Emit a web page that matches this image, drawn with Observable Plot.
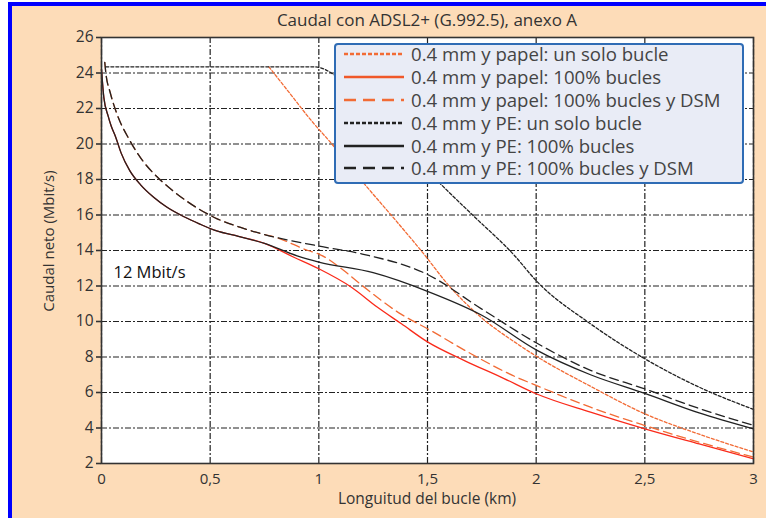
<!DOCTYPE html>
<html><head><meta charset="utf-8">
<script src="https://cdn.jsdelivr.net/npm/d3@7"></script>
<script src="https://cdn.jsdelivr.net/npm/@observablehq/plot@0.6"></script>
<style>
html,body{margin:0;padding:0;background:#fff;}
#wrap{position:relative;width:766px;height:518px;overflow:hidden;background:#fff;font-family:"Open Sans",sans-serif;}
#panel{position:absolute;left:8px;top:2px;width:758px;height:516px;background:#fddcb8;border-left:4px solid #0000ff;border-top:4px solid #0000ff;box-sizing:border-box;}
#chart{position:absolute;left:0;top:0;}
#title{position:absolute;left:101px;width:652px;top:8px;text-align:center;font-size:17px;color:#333;white-space:nowrap;}
#xlabel{position:absolute;left:101px;width:652px;top:488px;text-align:center;font-size:15.5px;line-height:21px;color:#333;white-space:nowrap;}
#ylabel{position:absolute;left:48px;top:241px;transform:translate(-50%,-50%) rotate(-90deg);font-size:15px;color:#333;white-space:nowrap;}
#legend{position:absolute;left:334px;top:43px;width:410px;height:141px;box-sizing:border-box;border:2px solid #2f6cb5;border-radius:4px;background:#e9ecf6;padding-top:0px;}
.row{display:flex;align-items:center;height:22.8px;white-space:nowrap;}
.row:first-child{margin-top:-2px;}
.row svg{margin-left:8px;margin-right:7px;flex:none;}
.row span{font-size:18.6px;line-height:22px;color:#444;}
</style></head>
<body>
<div id="wrap">
  <div id="panel"></div>
  <div id="chart"></div>
  <div id="title"></div>
  <div id="xlabel"></div>
  <div id="ylabel"></div>
  <div id="legend"></div>
</div>
<script>
// ---- texts ----
const titleText = "Caudal con ADSL2+ (G.992.5), anexo A";
const xLabelText = "Longuitud del bucle (km)";
const yLabelText = "Caudal neto (Mbit/s)";

// ---- ticks ----
const xTicks = [0, 0.5, 1, 1.5, 2, 2.5, 3];
const xTickLabels = ["0", "0,5", "1", "1,5", "2", "2,5", "3"];
const yTicks = [2, 4, 6, 8, 10, 12, 14, 16, 18, 20, 22, 24, 26];

// ---- series names ----
const seriesNames = [
  "0.4 mm y papel: un solo bucle",
  "0.4 mm y papel: 100% bucles",
  "0.4 mm y papel: 100% bucles y DSM",
  "0.4 mm y PE: un solo bucle",
  "0.4 mm y PE: 100% bucles",
  "0.4 mm y PE: 100% bucles y DSM"
];

// ---- series values (km, Mbit/s) ----
const paperSingleX = [0.77, 0.87, 0.96, 1.06, 1.22, 1.35, 1.48, 1.6, 1.75, 1.9, 2.0, 2.25, 2.5, 2.75, 3.0];
const paperSingleY = [24.35, 22.8, 21.4, 20.0, 17.6, 15.75, 13.85, 12.0, 10.2, 8.85, 8.05, 6.35, 4.8, 3.65, 2.65];

const paperAllX = [0, 0.011, 0.03, 0.045, 0.065, 0.09, 0.13, 0.18, 0.24, 0.3, 0.38, 0.45, 0.53, 0.63, 0.75, 0.885, 1.0, 1.15, 1.27, 1.38, 1.5, 1.67, 1.85, 2.0, 2.25, 2.5, 2.75, 3.0];
const paperAllY = [24.2, 22.6, 21.6, 21.0, 20.4, 19.5, 18.5, 17.7, 17.0, 16.45, 15.9, 15.5, 15.1, 14.8, 14.4, 13.62, 12.97, 11.93, 10.8, 9.87, 8.85, 7.8, 6.8, 5.93, 4.89, 3.95, 3.1, 2.27];

const paperDsmX = [0.015, 0.02, 0.04, 0.065, 0.13, 0.19, 0.26, 0.32, 0.39, 0.53, 0.64, 0.75, 0.8, 0.95, 1.0, 1.115, 1.19, 1.376, 1.514, 1.7, 1.91, 2.0, 2.25, 2.5, 2.75, 3.0];
const paperDsmY = [24.6, 24.0, 22.9, 21.9, 20.2, 19.05, 18.1, 17.45, 16.8, 15.8, 15.3, 14.9, 14.75, 14.0, 13.8, 12.87, 12.12, 10.43, 9.5, 8.18, 6.86, 6.4, 5.17, 4.14, 3.2, 2.36];

const peSingleX = [0.02, 0.5, 0.98, 1.07, 1.2, 1.35, 1.5, 1.575, 1.71, 1.9, 2.0, 2.25, 2.5, 2.75, 3.0];
const peSingleY = [24.35, 24.35, 24.35, 23.9, 22.3, 20.4, 18.5, 17.57, 15.97, 13.72, 12.3, 9.87, 7.9, 6.3, 5.05];

const peAllX = [0, 0.011, 0.03, 0.045, 0.065, 0.09, 0.13, 0.18, 0.24, 0.3, 0.38, 0.45, 0.53, 0.63, 0.75, 0.9, 1.0, 1.25, 1.5, 1.75, 2.0, 2.25, 2.5, 2.75, 3.0];
const peAllY = [24.2, 22.6, 21.6, 21.0, 20.4, 19.5, 18.5, 17.7, 17.0, 16.45, 15.9, 15.5, 15.1, 14.8, 14.4, 13.7, 13.35, 12.75, 11.7, 10.35, 8.4, 7.0, 5.95, 4.85, 3.95];

const peDsmX = [0.015, 0.02, 0.04, 0.065, 0.13, 0.19, 0.26, 0.32, 0.39, 0.53, 0.64, 0.75, 1.0, 1.2, 1.5, 1.75, 2.0, 2.25, 2.5, 2.75, 3.0];
const peDsmY = [24.6, 24.0, 22.9, 21.9, 20.2, 19.05, 18.1, 17.45, 16.8, 15.8, 15.3, 14.9, 14.25, 13.8, 12.65, 10.7, 8.8, 7.25, 6.2, 5.1, 4.15];

// ---- annotation ----
const noteText = "12 Mbit/s";
const noteX = 0.055;
const noteY = 12.75;

// ---- styles ----
const seriesColors = ["#f26b35", "#fa2a1a", "#f26b35", "#222222", "#222222", "#222222"];
const legendColors = ["#f26b35", "#f0582a", "#f26b35", "#222222", "#222222", "#222222"];
const seriesDash = ["3,2", null, "9,5", "3,2", null, "9,5"];
const legendDash = ["4,2", null, "12,7", "4,2", null, "12,7"];

const seriesX = [paperSingleX, paperAllX, paperDsmX, peSingleX, peAllX, peDsmX];
const seriesY = [paperSingleY, paperAllY, paperDsmY, peSingleY, peAllY, peDsmY];

const data = [];
seriesNames.forEach((name, k) => {
  seriesX[k].forEach((x, i) => data.push({serie: name, k, x, y: seriesY[k][i]}));
});

const lineMarks = seriesNames.map((name, k) =>
  Plot.line(data.filter(d => d.k === k), {
    x: "x", y: "y", stroke: seriesColors[k], strokeWidth: 1.3,
    strokeDasharray: seriesDash[k] || undefined, curve: "monotone-x"
  })
);

const chart = Plot.plot({
  width: 766, height: 518,
  marginLeft: 101, marginRight: 13, marginTop: 37, marginBottom: 55,
  style: {background: "transparent", fontFamily: "Open Sans, sans-serif", fontSize: "15px", color: "#333"},
  x: {domain: [0, 3], label: null},
  y: {domain: [2, 26], label: null},
  marks: [
    Plot.frame({fill: "white", stroke: "none"}),
    Plot.gridX(xTicks, {stroke: "#222", strokeOpacity: 1, strokeWidth: 1.2, strokeDasharray: "6,2,2,2"}),
    Plot.gridY(yTicks, {stroke: "#222", strokeOpacity: 1, strokeWidth: 1.2, strokeDasharray: "6,2,2,2"}),
    ...lineMarks,
    Plot.frame({stroke: "#333", strokeWidth: 1.6}),
    Plot.axisX(xTicks, {tickSize: 0, tickPadding: 10, fontSize: 15, color: "#333",
      tickFormat: d => xTickLabels[xTicks.indexOf(d)], label: null}),
    Plot.axisY(yTicks, {tickSize: 5, tickPadding: 3, fontSize: 15.5, color: "#333", strokeWidth: 1.6, label: null}),
    Plot.text([{x: noteX, y: noteY, t: noteText}], {x: "x", y: "y", text: "t", textAnchor: "start", fontSize: 16.5, fill: "#111"})
  ]
});
document.getElementById("chart").appendChild(chart);
document.getElementById("title").textContent = titleText;
document.getElementById("xlabel").textContent = xLabelText;
document.getElementById("ylabel").textContent = yLabelText;

const legend = document.getElementById("legend");
seriesNames.forEach((name, k) => {
  const row = document.createElement("div");
  row.className = "row";
  const svg = d3.create("svg").attr("width", 60).attr("height", 8);
  svg.append("line").attr("x1", 0).attr("x2", 60).attr("y1", 4).attr("y2", 4)
    .attr("stroke", legendColors[k]).attr("stroke-width", 2.6)
    .attr("stroke-dasharray", legendDash[k]);
  row.appendChild(svg.node());
  const span = document.createElement("span");
  span.textContent = name;
  row.appendChild(span);
  legend.appendChild(row);
});
</script>
</body></html>
